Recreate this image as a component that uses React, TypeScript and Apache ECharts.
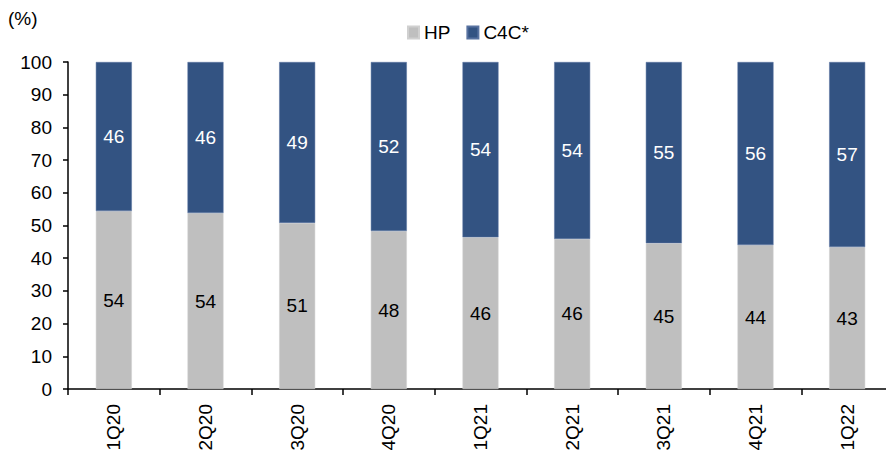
import React, { useEffect, useRef } from "react";
import * as echarts from "echarts";

const categories = ["1Q20", "2Q20", "3Q20", "4Q20", "1Q21", "2Q21", "3Q21", "4Q21", "1Q22"];
const hpValues = [54.4, 53.8, 50.8, 48.3, 46.4, 45.9, 44.6, 44.0, 43.4];
const c4cValues = [45.6, 46.2, 49.2, 51.7, 53.6, 54.1, 55.4, 56.0, 56.6];
const yTicks = { min: 0, max: 100, interval: 10 };

const FONT = "'Liberation Sans', Arial, sans-serif";
const FS = 19;

export default function App() {
  const ref = useRef<HTMLDivElement>(null);
  useEffect(() => {
    if (!ref.current) return;
    const chart = echarts.init(ref.current, null, { renderer: "svg" });
    chart.setOption({
      animation: false,
      backgroundColor: "#ffffff",
      textStyle: { fontFamily: FONT },
      graphic: [
        {
          type: "text",
          left: 8,
          top: 9,
          style: { text: "(%)", fontSize: FS, fontFamily: FONT, fill: "#000" },
        },
      ],
      legend: {
        top: 23,
        left: 407,
        padding: 0,
        itemWidth: 11,
        itemHeight: 12,
        itemGap: 16,
        icon: "rect",
        textStyle: { fontSize: FS, color: "#000", fontFamily: FONT },
        data: ["HP", "C4C*"],
      },
      grid: { left: 68, top: 62, width: 825, height: 327, containLabel: false },
      xAxis: {
        type: "category",
        data: categories,
        boundaryGap: true,
        axisLine: { show: true, lineStyle: { color: "#000", width: 1.5 } },
        axisTick: { show: true, length: 6, lineStyle: { color: "#000", width: 1.5 } },
        axisLabel: { rotate: 90, fontSize: FS, color: "#000", margin: 15, fontFamily: FONT },
      },
      yAxis: {
        type: "value",
        min: yTicks.min,
        max: yTicks.max,
        interval: yTicks.interval,
        axisLine: { show: true, lineStyle: { color: "#000", width: 1.5 } },
        axisTick: { show: true, length: 5, lineStyle: { color: "#000", width: 1.5 } },
        axisLabel: { fontSize: FS, color: "#000", margin: 16, fontFamily: FONT },
        splitLine: { show: false },
      },
      series: [
        {
          name: "HP",
          type: "bar",
          stack: "total",
          barWidth: 36,
          data: hpValues,
          itemStyle: { color: "#BFBFBF", borderColor: "#D0D0D0", borderWidth: 0.5 },
          label: {
            show: true,
            position: "inside",
            fontSize: FS,
            color: "#000",
            fontFamily: FONT,
            formatter: (p: any) => String(Math.round(p.value)),
          },
        },
        {
          name: "C4C*",
          type: "bar",
          stack: "total",
          barWidth: 36,
          data: c4cValues,
          itemStyle: { color: "#335382", borderColor: "#5872A0", borderWidth: 0.5 },
          label: {
            show: true,
            position: "inside",
            fontSize: FS,
            color: "#fff",
            fontFamily: FONT,
            formatter: (p: any) => String(Math.round(p.value)),
          },
        },
      ],
    });
    return () => chart.dispose();
  }, []);
  return (
    <div
      style={{ position: "fixed", left: 0, top: 0, width: 886, height: 456, overflow: "hidden" }}
    >
      <div ref={ref} style={{ width: 900, height: 456 }} />
    </div>
  );
}
